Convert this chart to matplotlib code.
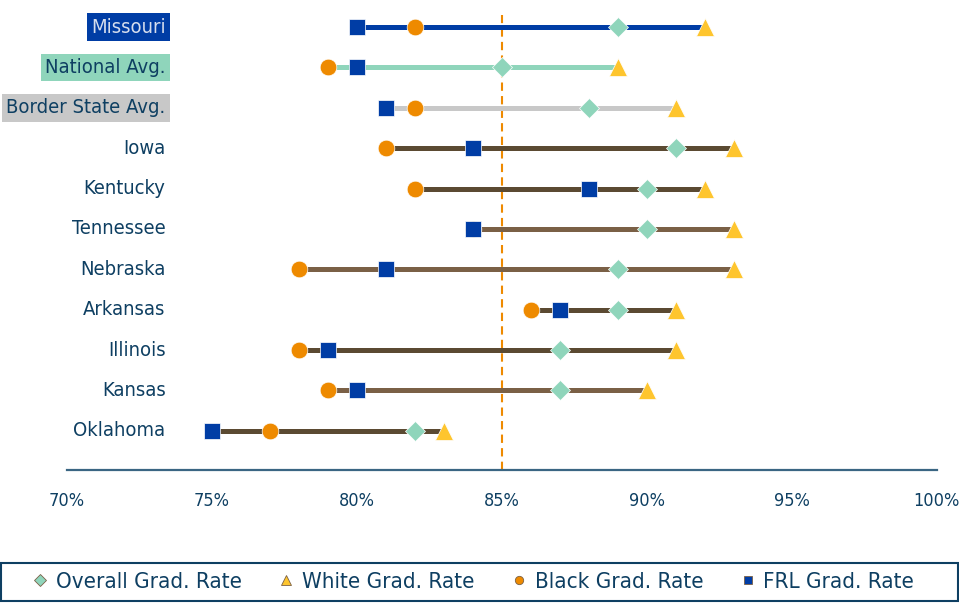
import matplotlib.pyplot as plt
from matplotlib.lines import Line2D
from matplotlib.patches import Rectangle

plt.rcParams['font.family'] = ['DejaVu Sans']
plt.rcParams['font.stretch'] = 'condensed'

# Datos del gráfico (de arriba hacia abajo)
states = ['Missouri', 'National Avg.', 'Border State Avg.', 'Iowa', 'Kentucky',
          'Tennessee', 'Nebraska', 'Arkansas', 'Illinois', 'Kansas', 'Oklahoma']
overall = [89, 85, 88, 91, 90, 90, 89, 89, 87, 87, 82]
white = [92, 89, 91, 93, 92, 93, 93, 91, 91, 90, 83]
black = [82, 79, 82, 81, 82, 84, 78, 86, 78, 79, 77]
frl = [80, 80, 81, 84, 88, 84, 81, 87, 79, 80, 75]
target = 85
xticks = [70, 75, 80, 85, 90, 95, 100]

# Colores
text_c = '#0E3F62'
line_colors = ['#003DA5', '#8FD5BB', '#C8C8C8', '#5B4A32', '#5B4A32', '#7A6046',
               '#7A6046', '#5B4A32', '#5B4A32', '#7A6046', '#5B4A32']
label_bg = {'Missouri': ('#003DA5', '#D6DEEE'),
            'National Avg.': ('#8FD5BB', text_c),
            'Border State Avg.': ('#C8C8C8', text_c)}
c_overall, c_white, c_black, c_frl = '#8FD5BB', '#FEC52E', '#EE8A00', '#003DA5'

fig = plt.figure(figsize=(9.59, 6.03), dpi=100)
ax = fig.add_axes([0.0699, 0.2206, 0.907, 0.7546])

label_x = 73.4
n = len(states)
for i, s in enumerate(states):
    y = n - 1 - i
    vals = [overall[i], white[i], black[i], frl[i]]
    ax.plot([min(vals), max(vals)], [y, y], color=line_colors[i], lw=3.6,
            solid_capstyle='butt', zorder=2)
    ax.plot(overall[i], y, 'D', color=c_overall, ms=10, mec='white', mew=0.5, zorder=3)
    ax.plot(white[i], y, '^', color=c_white, ms=13, mec='white', mew=0.5, zorder=3)
    ax.plot(black[i], y, 'o', color=c_black, ms=12, mec='white', mew=0.5, zorder=4)
    ax.plot(frl[i], y, 's', color=c_frl, ms=11, mec='white', mew=0.5, zorder=5)
    if s in label_bg:
        bg, fc = label_bg[s]
        ax.text(label_x, y, s, ha='right', va='center', fontsize=14.5, color=fc,
                bbox=dict(boxstyle='square,pad=0.22', fc=bg, ec='none'))
    else:
        ax.text(label_x, y, s, ha='right', va='center', fontsize=14.5, color=text_c)

ax.axvline(target, color='#EE8A00', ls=(0, (4, 2.5)), lw=1.5, zorder=1)

ax.set_xlim(70, 100)
ax.set_ylim(-0.97, n - 1 + 0.3)
ax.set_xticks(xticks)
ax.set_xticklabels([f'{t}%' for t in xticks], fontsize=13, color=text_c)
ax.tick_params(axis='x', length=0, pad=16)
ax.set_yticks([])
for sp in ['top', 'left', 'right']:
    ax.spines[sp].set_visible(False)
ax.spines['bottom'].set_color('#3A6683')
ax.spines['bottom'].set_linewidth(1.6)

# Leyenda
handles = [
    Line2D([], [], ls='none', marker='D', color=c_overall, mec='#7A6046', mew=0.6, ms=6),
    Line2D([], [], ls='none', marker='^', color=c_white, mec='#7A6046', mew=0.6, ms=7),
    Line2D([], [], ls='none', marker='o', color=c_black, mec='#7A6046', mew=0.6, ms=6),
    Line2D([], [], ls='none', marker='s', color=c_frl, mec='#7A6046', mew=0.6, ms=6),
]
labels = ['Overall Grad. Rate', 'White Grad. Rate', 'Black Grad. Rate', 'FRL Grad. Rate']
leg = fig.legend(handles, labels, loc='center', bbox_to_anchor=(0.493, 0.0345), ncol=4,
                 frameon=False, fontsize=16, handlelength=0.8, handletextpad=0.3,
                 columnspacing=1.6)
for t in leg.get_texts():
    t.set_color(text_c)
fig.patches.append(Rectangle((0.001, 0.004), 0.998, 0.063, transform=fig.transFigure,
                             fill=False, ec=text_c, lw=1.5))

fig.savefig('out.png', dpi=100)
